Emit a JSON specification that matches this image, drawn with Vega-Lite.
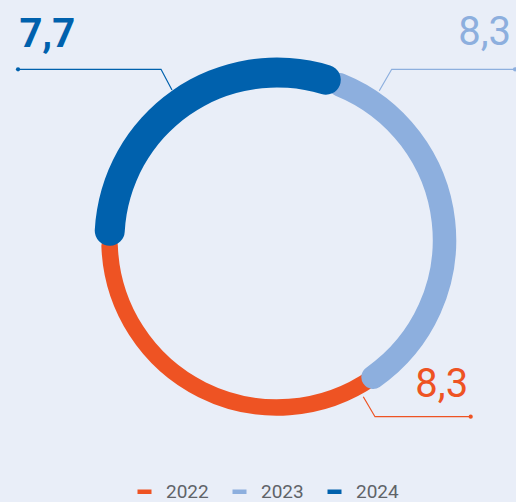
{
  "$schema": "https://vega.github.io/schema/vega-lite/v6.json",
  "width": 516,
  "height": 502,
  "autosize": "none",
  "padding": 0,
  "background": "#E9EEF8",
  "config": {"view": {"stroke": null}, "font": "Roboto"},
  "datasets": {
    "ring": [
      {"year": "2022", "value": 8.3},
      {"year": "2023", "value": 8.3},
      {"year": "2024", "value": 7.7}
    ],
    "leaders": [
      {"year": "2024", "step": 0, "x": -1.546, "y": 1.0191},
      {"year": "2024", "step": 1, "x": -0.6925, "y": 1.0191},
      {"year": "2024", "step": 2, "x": -0.6269, "y": 0.8955},
      {"year": "2023", "step": 0, "x": 1.4209, "y": 1.0191},
      {"year": "2023", "step": 1, "x": 0.6848, "y": 1.0191},
      {"year": "2023", "step": 2, "x": 0.6107, "y": 0.8913},
      {"year": "2022", "step": 0, "x": 1.1564, "y": -1.0549},
      {"year": "2022", "step": 1, "x": 0.5851, "y": -1.0549},
      {"year": "2022", "step": 2, "x": 0.5152, "y": -0.9355}
    ],
    "labels": [
      {"year": "2024", "text": "7,7", "x": -1.538, "y": 1.1522},
      {"year": "2023", "text": "8,3", "x": 1.082, "y": 1.1642},
      {"year": "2022", "text": "8,3", "x": 0.826, "y": -0.9373}
    ]
  },
  "layer": [
    {
      "data": {"name": "ring"},
      "transform": [
        {"stack": "value", "groupby": [], "sort": [{"field": "year", "order": "descending"}], "as": ["t0", "t1"]},
        {"filter": "datum.year === '2022'"}
      ],
      "mark": {"type": "arc", "radius": 167.75, "radius2": 167.25, "stroke": "#EE5323", "strokeWidth": 16, "strokeJoin": "round"},
      "encoding": {
        "x": {"datum": 0, "type": "quantitative", "scale": {"domain": [-1.6537, 1.4269], "nice": false, "zero": false}, "axis": null},
        "y": {"datum": 0, "type": "quantitative", "scale": {"domain": [-1.5642, 1.4328], "nice": false, "zero": false}, "axis": null},
        "theta": {"field": "t0", "type": "quantitative", "scale": {"domain": [0, 24.3], "range": [4.6775, 10.9607], "nice": false}},
        "theta2": {"field": "t1"},
        "color": {
          "field": "year", "type": "nominal",
          "scale": {"domain": ["2022", "2023", "2024"], "range": ["#EE5323", "#8DAFDE", "#0061AD"]},
          "legend": {
            "title": null, "orient": "none", "legendX": 135, "legendY": 482, "direction": "horizontal",
            "symbolType": "stroke", "symbolSize": 196, "symbolStrokeWidth": 4.5,
            "labelFont": "Roboto", "labelFontSize": 19, "labelColor": "#5F6368", "labelOffset": 12, "columnPadding": 14,
            "encode": {"symbols": {"update": {"stroke": {"scale": "color", "field": "value"}, "strokeCap": {"value": "round"}}}}
          }
        }
      }
    },
    {
      "data": {"name": "ring"},
      "transform": [
        {"stack": "value", "groupby": [], "sort": [{"field": "year", "order": "descending"}], "as": ["t0", "t1"]},
        {"filter": "datum.year === '2023'"}
      ],
      "mark": {"type": "arc", "radius": 167.75, "radius2": 167.25, "stroke": "#8DAFDE", "strokeWidth": 23, "strokeJoin": "round"},
      "encoding": {
        "x": {"datum": 0, "type": "quantitative"},
        "y": {"datum": 0, "type": "quantitative"},
        "theta": {"field": "t0", "type": "quantitative", "scale": {"domain": [0, 24.3], "range": [4.6775, 10.9607], "nice": false}},
        "theta2": {"field": "t1"},
        "color": {"field": "year", "type": "nominal"}
      }
    },
    {
      "data": {"name": "ring"},
      "transform": [
        {"stack": "value", "groupby": [], "sort": [{"field": "year", "order": "descending"}], "as": ["t0", "t1"]},
        {"filter": "datum.year === '2024'"}
      ],
      "mark": {"type": "arc", "radius": 182.5, "radius2": 152.5, "cornerRadius": 15},
      "encoding": {
        "x": {"datum": 0, "type": "quantitative"},
        "y": {"datum": 0, "type": "quantitative"},
        "theta": {"field": "t0", "type": "quantitative", "scale": {"domain": [0, 24.3], "range": [4.6775, 10.9607], "nice": false}},
        "theta2": {"field": "t1"},
        "color": {"field": "year", "type": "nominal"}
      }
    },
    {
      "data": {"name": "leaders"},
      "mark": {"type": "line", "strokeWidth": 1.2},
      "encoding": {
        "x": {"field": "x", "type": "quantitative"},
        "y": {"field": "y", "type": "quantitative"},
        "detail": {"field": "year"},
        "order": {"field": "step", "type": "quantitative"},
        "color": {"field": "year", "type": "nominal", "legend": null}
      }
    },
    {
      "data": {"name": "leaders"},
      "transform": [{"filter": "datum.step === 0"}],
      "mark": {"type": "point", "filled": true, "opacity": 1, "size": 18},
      "encoding": {
        "x": {"field": "x", "type": "quantitative"},
        "y": {"field": "y", "type": "quantitative"},
        "color": {"field": "year", "type": "nominal", "legend": null}
      }
    },
    {
      "data": {"name": "labels"},
      "transform": [{"filter": "datum.year === '2024'"}],
      "mark": {"type": "text", "align": "left", "baseline": "alphabetic", "fontSize": 40, "font": "Roboto", "fontWeight": "bold"},
      "encoding": {
        "x": {"field": "x", "type": "quantitative"},
        "y": {"field": "y", "type": "quantitative"},
        "text": {"field": "text"},
        "color": {"field": "year", "type": "nominal", "legend": null}
      }
    },
    {
      "data": {"name": "labels"},
      "transform": [{"filter": "datum.year !== '2024'"}],
      "mark": {"type": "text", "align": "left", "baseline": "alphabetic", "fontSize": 40, "font": "Roboto", "fontWeight": "normal"},
      "encoding": {
        "x": {"field": "x", "type": "quantitative"},
        "y": {"field": "y", "type": "quantitative"},
        "text": {"field": "text"},
        "color": {"field": "year", "type": "nominal", "legend": null}
      }
    }
  ]
}
